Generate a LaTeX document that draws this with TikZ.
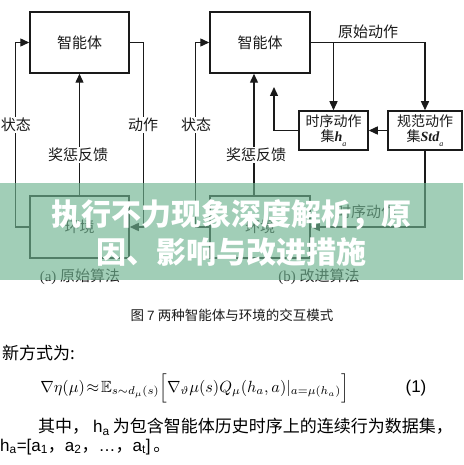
\documentclass[tikz,border=0pt]{standalone}
\usepackage{fontspec}
\usepackage{amssymb}
\usetikzlibrary{arrows.meta}
\newfontfamily\cjk{Noto Sans CJK SC}
\newfontfamily\arialf{Liberation Sans}
\newfontfamily\timesf{Liberation Serif}
\definecolor{inkc}{HTML}{1A1A1A}
\definecolor{bannerc}{RGB}{112,180,145}
\begin{document}
\begin{tikzpicture}[x=1pt,y=-1pt,
  box/.style={draw=inkc, line width=1.5pt, inner sep=0pt, text=inkc,
    font=\cjk\fontsize{15}{18}\selectfont},
  sbox/.style={box, align=center, font=\cjk\fontsize{14}{15.5}\selectfont},
  arr/.style={draw=inkc, line width=1.4pt, -{Triangle[length=9pt,width=8pt]}},
  lbl/.style={fill=white, inner sep=1.5pt, text=inkc, font=\cjk\fontsize{15}{18}\selectfont},
  captxt/.style={text=inkc, inner sep=0pt, font=\fontsize{15}{18}\selectfont},
  body/.style={text=black, inner sep=0pt, font=\fontsize{17}{20}\selectfont},
  bann/.style={text=white, inner sep=0pt, font=\cjk\bfseries\fontsize{30}{34}\selectfont}]
\useasboundingbox (0,0) rectangle (463,465);
\fill[white] (0,0) rectangle (463,465);
% ---------- left diagram (a) ----------
\node[box, minimum width=99pt, minimum height=61pt] (agentA) at (79.5,42.5) {智能体};
\node[box, minimum width=99pt, minimum height=62pt] (envA) at (79.5,227) {环境};
\draw[arr] (envA.west) -- ++(-14,0) |- (agentA.west);
\draw[arr] (agentA.east) -- ++(14,0) |- (envA.east);
\draw[arr] (envA.north) -- (agentA.south);
\node[lbl] (stA) at (16,125) {状态};
\node[lbl] (acA) at (143,125) {动作};
\node[lbl] (rwA) at (78,155) {奖惩反馈};
\node[captxt] (capA) at (80,277) {\timesf(a)\ \cjk 原始算法};
% ---------- right diagram (b) ----------
\node[box, minimum width=100pt, minimum height=61pt] (agentB) at (260,42.5) {智能体};
\node[box, minimum width=100pt, minimum height=62pt] (envB) at (260,227) {环境};
\node[sbox, minimum width=69pt, minimum height=39pt] (seqB) at (333.5,130.5)
  {时序动作\\集{\timesf\bfseries\itshape h}\raisebox{-5pt}{\timesf\itshape\fontsize{8}{8}\selectfont a}};
\node[sbox, minimum width=74pt, minimum height=39pt] (stdB) at (425,130.5)
  {规范动作\\集{\timesf\bfseries\itshape Std}\raisebox{-5pt}{\timesf\itshape\fontsize{8}{8}\selectfont a}};
\coordinate (seqTip) at (274,87);
\draw[arr] (envB.west) -- ++(-14,0) |- (agentB.west);
\draw[arr] ([xshift=-6pt]envB.north) -- ([xshift=-6pt]agentB.south);
\draw[arr] (seqB.west) -| (seqTip);
\draw[arr] (agentB.east) -| (stdB.north);
\draw[arr] (agentB.east -| seqB.north) -- (seqB.north);
\draw[arr] (stdB.west) -- (seqB.east);
\draw[arr] (stdB.south) |- (envB.east);
\node[lbl] (stB) at (196,125) {状态};
\node[lbl] (rwB) at (256,155) {奖惩反馈};
\node[text=inkc, inner sep=0pt, font=\cjk\fontsize{15}{18}\selectfont] (orB) at (368,32) {原始动作};
\node[text=inkc, inner sep=0pt, font=\cjk\fontsize{15}{18}\selectfont] (sqB) at (366,212) {时序动作};
\node[captxt] (capB) at (319,277) {\timesf(b)\ \cjk 改进算法};
% ---------- banner ----------
\fill[bannerc, opacity=0.65] (0,183) rectangle (463,280);
\node[bann] (ban1) at (231,215) {执行不力现象深度解析，原};
\node[bann] (ban2) at (231,252) {因、影响与改进措施};
% ---------- caption and text ----------
\node[text=inkc, inner sep=0pt, font=\cjk\fontsize{13.5}{16}\selectfont] (fig) at (232,315) {图\ {\arialf 7}\ 两种智能体与环境的交互模式};
\node[body, anchor=west] (t1) at (2,353) {\cjk 新方式为:};
\node[text=black, inner sep=0pt, anchor=west, scale=1.62] (eq) at (40,388)
  {$\nabla\eta(\mu)\!\approx\!\mathbb{E}_{s\sim d_\mu(s)}\Bigl[\nabla_{\vartheta}\mu(s)Q_\mu(h_a,a)|_{a=\mu(h_a)}\Bigr]$};
\node[body] (eqn) at (416,388) {\arialf (1)};
\node[body, anchor=west] (t2) at (38,427)
  {\cjk 其中，\hspace{4pt}{\arialf h\textsubscript{a}}\hspace{3pt}为包含智能体历史时序上的连续行为数据集，};
\node[body, anchor=west] (t3) at (0,447)
  {\arialf h\textsubscript{a}=[a\textsubscript{1}{\cjk ，}a\textsubscript{2}{\cjk ，}…{\cjk ，}a\textsubscript{t}]\,{\cjk 。}};
\end{tikzpicture}
\end{document}
